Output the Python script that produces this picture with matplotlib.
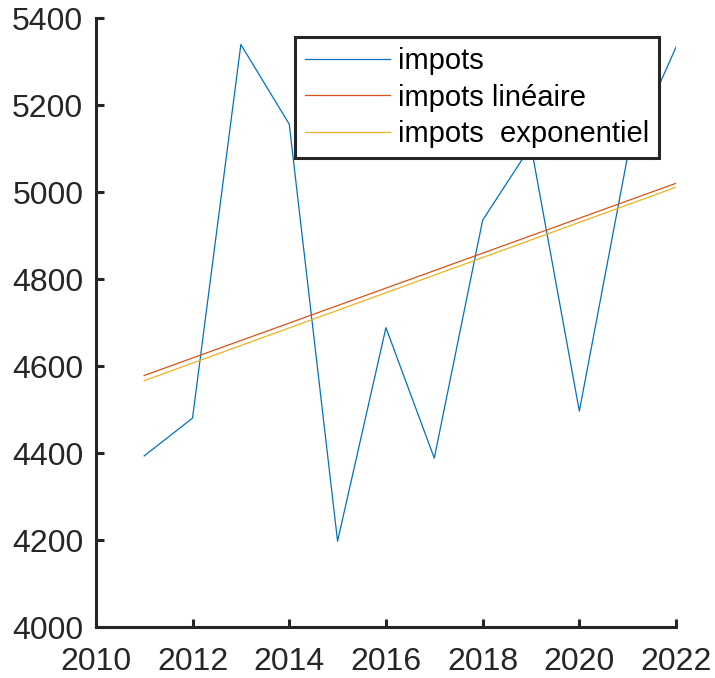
import matplotlib
matplotlib.use("Agg")
import matplotlib.pyplot as plt

# donnees
annees = [2011, 2012, 2013, 2014, 2015, 2016, 2017, 2018, 2019, 2020, 2021, 2022]
impots = [4394, 4481, 5340, 5157, 4198, 4689, 4389, 4936, 5107, 4497, 5084, 5334]

annees_fit = [2011, 2022]
impots_lin = [4579, 5021]
impots_exp = [4567, 5012]

plt.rcParams['font.family'] = ['Liberation Sans', 'DejaVu Sans']

fig = plt.figure(figsize=(7.15, 6.78), dpi=100)
ax = fig.add_axes([0.134, 0.0748, 0.8115, 0.898])

ax.plot(annees, impots, color="#0072BD", linewidth=0.9, label="impots")
ax.plot(annees_fit, impots_lin, color="#D95319", linewidth=0.9, label="impots linéaire")
ax.plot(annees_fit, impots_exp, color="#EDB120", linewidth=0.9, label="impots  exponentiel")

ax.set_xlim(2010, 2022)
ax.set_ylim(4000, 5400)
ax.set_xticks(range(2010, 2023, 2))
ax.set_yticks(range(4000, 5401, 200))

for s in ["top", "right"]:
    ax.spines[s].set_visible(False)
for s in ["left", "bottom"]:
    ax.spines[s].set_linewidth(2.2)
    ax.spines[s].set_color("#262626")

ax.tick_params(axis="both", direction="in", length=6, width=2.2, color="#262626",
               labelsize=23, labelcolor="#262626")
ax.tick_params(axis="x", pad=14)
ax.tick_params(axis="y", pad=9)

leg = ax.legend(loc="upper right", bbox_to_anchor=(0.971, 0.969), borderaxespad=0,
                fontsize=21, handlelength=2.9, handletextpad=0.3, labelspacing=0.3,
                fancybox=False, framealpha=1, edgecolor="#262626", borderpad=0.33)
leg.get_frame().set_linewidth(2.2)
for t in leg.get_texts():
    t.set_color("black")

fig.savefig("out.png", dpi=100)
